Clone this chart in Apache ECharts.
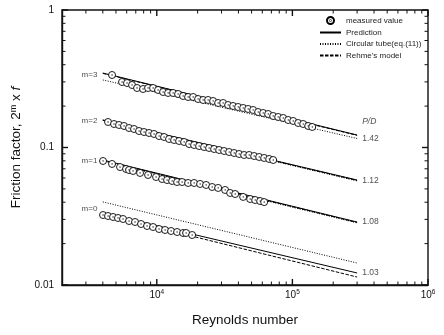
<!DOCTYPE html>
<html><head><meta charset="utf-8">
<script src="https://cdn.jsdelivr.net/npm/echarts/dist/echarts.min.js"></script>
<style>html,body{margin:0;padding:0;background:#fff}#c{width:444px;height:335px}</style>
</head><body><div id="c"></div>
<script>
// ---- measured values (2^m x f) ----
const reM3 = [4678,5544,6035,6571,7153,7921,8624,9389,10222,11128,12116,13191,14361,15634,17021,18531,20170,21960,23906,26026,28336,30848,33587,36563,39813,43337,47172,51356,55910,60870,66274,72156,78552,85512,93092,101340,110320,120100,130740,139980];
const fM3  = [0.3368,0.2995,0.2945,0.2848,0.2709,0.2664,0.2709,0.2709,0.2620,0.2533,0.2492,0.2492,0.2450,0.2369,0.2330,0.2330,0.2253,0.2216,0.2216,0.2179,0.2107,0.2107,0.2038,0.2004,0.1971,0.1938,0.1906,0.1874,0.1812,0.1782,0.1752,0.1695,0.1667,0.1639,0.1585,0.1559,0.1507,0.1482,0.1434,0.1410];
const reM2 = [4371,4839,5268,5735,6244,6798,7401,8057,8772,9550,10397,11319,12323,13417,14607,15902,17313,18849,20516,22336,24316,26472,28822,31377,34163,37190,40496,44080,47981,52236,56869,61913,67411,72156];
const fM2  = [0.1533,0.1482,0.1458,0.1434,0.1386,0.1363,0.1318,0.1296,0.1275,0.1254,0.1212,0.1192,0.1153,0.1134,0.1115,0.1097,0.1060,0.1043,0.1025,0.1008,0.0992,0.0975,0.0959,0.0943,0.0927,0.0912,0.0897,0.0882,0.0882,0.0867,0.0853,0.0839,0.0825,0.0811];
const reM1 = [4015,4678,5359,5934,6244,6683,7527,8624,9880,10941,11911,12968,14118,15371,17021,18849,20867,23108,25588,28336,31915,34748,37828,43337,48803,53132,57844,61913];
const fM1  = [0.0798,0.0759,0.0721,0.0698,0.0686,0.0675,0.0653,0.0631,0.0610,0.0590,0.0580,0.0571,0.0561,0.0561,0.0552,0.0552,0.0543,0.0534,0.0516,0.0508,0.0491,0.0467,0.0459,0.0437,0.0422,0.0415,0.0408,0.0401];
const reM0 = [4015,4371,4758,5180,5639,6244,6914,7656,8479,9389,10397,11513,12750,14118,15634,16452,18219];
const fM0  = [0.03229,0.03175,0.03123,0.03071,0.03020,0.02920,0.02872,0.02777,0.02686,0.02641,0.02554,0.02512,0.02470,0.02429,0.02389,0.02389,0.02310];

// ---- model lines (end points) ----
const lineRe = [4000, 300000];
const predM3 = [0.348, 0.1233],  circM3 = [0.310, 0.1163],  rehmeM3 = [0.346, 0.1225];
const predM2 = [0.1585, 0.0580], circM2 = [0.1575, 0.0571], rehmeM2 = [0.1580, 0.0576];
const predM1 = [0.0811, 0.0287], circM1 = [0.0795, 0.0283], rehmeM1 = [0.0806, 0.0285];
const predM0 = [0.0334, 0.01223], circM0 = [0.0402, 0.01445], rehmeM0 = [0.0328, 0.01143];

// ---- annotations ----
const mLabels = ['m=3','m=2','m=1','m=0'];
const mLabelRe = 3190;
const mLabelF = [0.3367, 0.1559, 0.0797, 0.0357];
const pdLabels = ['P/D','1.42','1.12','1.08','1.03'];
const pdLabelRe = 327000;
const pdLabelF = [0.1533, 0.1153, 0.0571, 0.0287, 0.01223];

// ---- axes ----
const xMin = 2000, xMax = 1e6, yMin = 0.01, yMax = 1;
const xMajor = [1e4, 1e5, 1e6];
const yMajor = [0.01, 0.1, 1];
const yTickLabels = {'-2':'0.01','-1':'0.1','0':'1'};
const legendNames = ['measured value','Prediction','Circular tube(eq.(11))',"Rehme's model"];

const xMinor = [], yMinor = [];
[1e3,1e4,1e5].forEach(d => { for (let k = 2; k <= 9; k++) { const v = k*d; if (v > xMin && v < xMax) xMinor.push(v); } });
[0.01,0.1].forEach(d => { for (let k = 2; k <= 9; k++) yMinor.push(k*d); });

const FONT = 'Liberation Sans, Arial, Helvetica, sans-serif';
const INK = '#111';
const sym = 'path://M0,10A10,10,0,1,1,20,10A10,10,0,1,1,0,10Z M9.2,10A0.8,0.8,0,1,1,10.8,10A0.8,0.8,0,1,1,9.2,10Z';

const zip = (a, b) => a.map((v, i) => [v, b[i]]);
const groups = [
  {re: reM3, f: fM3, pred: predM3, circ: circM3, rehme: rehmeM3},
  {re: reM2, f: fM2, pred: predM2, circ: circM2, rehme: rehmeM2},
  {re: reM1, f: fM1, pred: predM1, circ: circM1, rehme: rehmeM1},
  {re: reM0, f: fM0, pred: predM0, circ: circM0, rehme: rehmeM0}
];

const series = [];
groups.forEach(g => {
  series.push({name: 'Prediction', type: 'line', data: zip(lineRe, g.pred), symbol: 'none', z: 3,
    lineStyle: {color: '#000', width: 1, type: 'solid'}, itemStyle: {color: '#000'}, silent: true, animation: false});
  series.push({name: 'Circular tube(eq.(11))', type: 'line', data: zip(lineRe, g.circ), symbol: 'none', z: 3,
    lineStyle: {color: '#000', width: 1, type: [1, 1.5]}, itemStyle: {color: '#000'}, silent: true, animation: false});
  series.push({name: "Rehme's model", type: 'line', data: zip(lineRe, g.rehme), symbol: 'none', z: 3,
    lineStyle: {color: '#000', width: 1, type: [3.5, 1.5]}, itemStyle: {color: '#000'}, silent: true, animation: false});
});
groups.forEach(g => {
  series.push({name: 'measured value', type: 'scatter', data: zip(g.re, g.f), symbol: sym, symbolSize: 7, z: 5,
    itemStyle: {color: '#fff', borderColor: '#000', borderWidth: 0.9, opacity: 1}, silent: true, animation: false});
});

// ticks drawn through the axes' scales (inside, mirrored on all four sides)
const tickData = [];
xMajor.forEach(v => tickData.push([v, 0.1, 0, 1]));
xMinor.forEach(v => tickData.push([v, 0.1, 0, 0]));
yMajor.forEach(v => tickData.push([10000, v, 1, 1]));
yMinor.forEach(v => tickData.push([10000, v, 1, 0]));
series.push({
  type: 'custom', data: tickData, clip: false, silent: true, z: 6, animation: false,
  encode: {x: 0, y: 1},
  renderItem: function (params, api) {
    const cs = params.coordSys;
    const major = api.value(3) === 1;
    const len = major ? 6 : 3.5;
    const st = {stroke: '#111', lineWidth: major ? 1.4 : 1};
    if (api.value(2) === 0) {
      const px = api.coord([api.value(0), 0.1])[0];
      const b = cs.y + cs.height, t = cs.y;
      return {type: 'group', children: [
        {type: 'line', shape: {x1: px, y1: b, x2: px, y2: b - len}, style: st},
        {type: 'line', shape: {x1: px, y1: t, x2: px, y2: t + len}, style: st}
      ]};
    } else {
      const py = api.coord([10000, api.value(1)])[1];
      const l = cs.x, r = cs.x + cs.width;
      return {type: 'group', children: [
        {type: 'line', shape: {x1: l, y1: py, x2: l + len, y2: py}, style: st},
        {type: 'line', shape: {x1: r, y1: py, x2: r - len, y2: py}, style: st}
      ]};
    }
  }
});

// annotation texts anchored at data coordinates
series.push({
  type: 'scatter', symbolSize: 0, silent: true, z: 7, animation: false,
  data: mLabels.map((t, i) => ({name: t, value: [mLabelRe, mLabelF[i]]})),
  label: {show: true, position: 'inside', formatter: '{b}', fontSize: 8, color: '#222', fontFamily: FONT, align: 'center', verticalAlign: 'middle'}
});
series.push({
  type: 'scatter', symbolSize: 0, silent: true, z: 7, animation: false,
  data: pdLabels.map((t, i) => ({name: t, value: [pdLabelRe, pdLabelF[i]],
    label: {fontStyle: i === 0 ? 'italic' : 'normal'}})),
  label: {show: true, position: 'inside', formatter: '{b}', fontSize: 8.5, color: '#222', fontFamily: FONT, align: 'left', verticalAlign: 'middle'}
});

const legendData = legendNames.map((n, i) => i === 0 ? {name: n} : {name: n, itemStyle: {opacity: 0}});

const chart = echarts.init(document.getElementById('c'), null, {renderer: 'canvas'});
chart.setOption({
  animation: false,
  backgroundColor: '#fff',
  textStyle: {fontFamily: FONT},
  grid: {left: 62, right: 16, top: 10, bottom: 50, show: true, borderColor: '#111', borderWidth: 1.4, outerBoundsMode: 'none', containLabel: false},
  legend: {
    data: legendData, orient: 'vertical', left: 319, top: 16, itemWidth: 21, itemHeight: 7, itemGap: 3.5, padding: 0,
    textStyle: {fontSize: 8, color: '#222', fontFamily: FONT}, selectedMode: false
  },
  xAxis: {
    type: 'log', logBase: 10, min: xMin, max: xMax,
    name: 'Reynolds number', nameLocation: 'middle', nameGap: 28,
    nameTextStyle: {fontSize: 13.5, color: INK, fontFamily: FONT},
    axisLine: {show: true, lineStyle: {color: '#111', width: 1.4}},
    axisTick: {show: false}, splitLine: {show: false}, minorTick: {show: false},
    axisLabel: {
      margin: 4, color: INK, fontFamily: FONT, showMinLabel: true, showMaxLabel: true,
      formatter: function (v) {
        const e = Math.round(Math.log10(v));
        if (Math.abs(Math.log10(v) - e) > 1e-6 || e < 4) return '';
        return '{b|10}{s|' + e + '}';
      },
      rich: {b: {fontSize: 10, lineHeight: 13, color: INK, fontFamily: FONT},
             s: {fontSize: 6.5, lineHeight: 7, verticalAlign: 'top', color: INK, fontFamily: FONT}}
    }
  },
  yAxis: {
    type: 'log', logBase: 10, min: yMin, max: yMax,
    name: '{a|Friction factor, 2}{s|m}{a| x }{i|f}', nameLocation: 'middle', nameGap: 36,
    nameTextStyle: {color: INK, fontFamily: FONT, rich: {
      a: {fontSize: 13.5, color: INK, fontFamily: FONT, lineHeight: 16},
      s: {fontSize: 9, color: INK, fontFamily: FONT, verticalAlign: 'top', lineHeight: 9},
      i: {fontSize: 13.5, color: INK, fontFamily: FONT, fontStyle: 'italic', lineHeight: 16}
    }},
    axisLine: {show: true, lineStyle: {color: '#111', width: 1.4}},
    axisTick: {show: false}, splitLine: {show: false}, minorTick: {show: false},
    axisLabel: {
      margin: 8, fontSize: 10, color: INK, fontFamily: FONT,
      formatter: function (v) {
        const e = Math.round(Math.log10(v));
        if (Math.abs(Math.log10(v) - e) > 1e-6) return '';
        return yTickLabels[String(e)] || '';
      }
    }
  },
  series: series
});
</script></body></html>
